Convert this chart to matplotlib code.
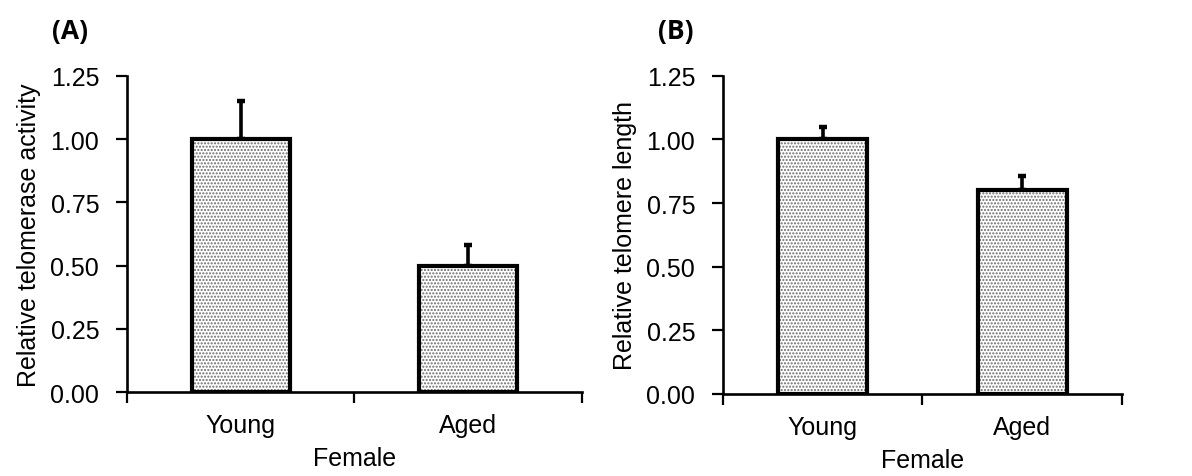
import matplotlib.pyplot as plt

plt.rcParams['font.family'] = ['Liberation Sans', 'DejaVu Sans']
plt.rcParams['hatch.linewidth'] = 1.0
plt.rcParams['hatch.color'] = '#6a6a6a'

groups = ['Young', 'Aged']
activity = [1.00, 0.50]
activity_err = [0.15, 0.08]
length = [1.00, 0.80]
length_err = [0.05, 0.055]
yticks = [0.00, 0.25, 0.50, 0.75, 1.00, 1.25]

fig = plt.figure(figsize=(11.92, 4.77), dpi=100)
ax1 = fig.add_axes([0.1065, 0.176, 0.3817, 0.663])
ax2 = fig.add_axes([0.6065, 0.172, 0.3347, 0.667])

FS = 18


def draw(ax, vals, errs, ylab, width, lab_x):
    x = range(len(groups))
    # dotted fill, then the black outline on top
    ax.bar(x, vals, width=width, color='white', edgecolor='#6a6a6a',
           hatch='.....', linewidth=0, zorder=2)
    ax.bar(x, vals, width=width, color='none', edgecolor='black',
           linewidth=3.0, zorder=3)
    ax.errorbar(x, vals, yerr=[[0] * len(errs), errs], fmt='none',
                ecolor='black', elinewidth=2.6, capsize=3, capthick=3.2,
                zorder=1)
    ax.set_xlim(-0.5, 1.5)
    ax.set_ylim(0, 1.25)
    ax.set_yticks(yticks)
    ax.set_yticklabels(['%.2f' % t for t in yticks])
    ax.set_xticks([-0.5, 0.5, 1.5])
    ax.set_xticklabels([])
    ax.set_xticks([0, 1], minor=True)
    ax.set_xticklabels(groups, minor=True)
    ax.tick_params(axis='x', which='minor', length=0, pad=15, labelsize=FS)
    ax.tick_params(axis='x', which='major', length=8, width=1.6,
                   direction='out')
    ax.tick_params(axis='y', length=8, width=1.6, direction='out',
                   pad=12, labelsize=FS)
    for s in ['top', 'right']:
        ax.spines[s].set_visible(False)
    for s in ['left', 'bottom']:
        ax.spines[s].set_linewidth(1.9)
    ax.set_ylabel(ylab, fontsize=FS)
    ax.yaxis.set_label_coords(lab_x, 0.5)
    ax.set_xlabel('Female', fontsize=FS)
    ax.xaxis.set_label_coords(0.5, -0.17)


draw(ax1, activity, activity_err, 'Relative telomerase activity', 0.43, -0.19)
draw(ax2, length, length_err, 'Relative telomere length', 0.445, -0.215)

fig.text(0.059, 0.934, '(A)', fontsize=19, fontweight='bold',
         family=['Open Sans', 'DejaVu Sans'], ha='center', va='center')
fig.text(0.567, 0.934, '(B)', fontsize=19, fontweight='bold',
         family=['Open Sans', 'DejaVu Sans'], ha='center', va='center')

fig.savefig('out.png', dpi=100)
